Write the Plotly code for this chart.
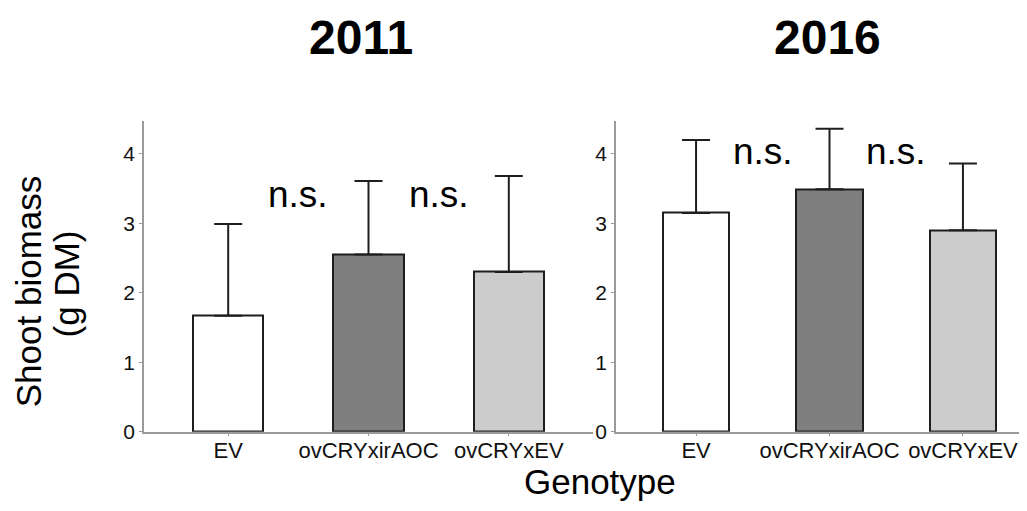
import plotly.graph_objects as go

W, H = 1027, 511

genotypes = ["EV", "ovCRYxirAOC", "ovCRYxEV"]
bar_colors = ["#ffffff", "#7f7f7f", "#cccccc"]

mean_2011 = [1.67, 2.55, 2.30]
err_2011 = [1.32, 1.06, 1.38]

mean_2016 = [3.15, 3.49, 2.90]
err_2016 = [1.05, 0.87, 0.96]

sig_labels = ["n.s.", "n.s."]
sig_y_2011 = [3.41, 3.41]
sig_y_2016 = [4.03, 4.03]

years = ["2011", "2016"]

FONT = "Liberation Sans, Arial, sans-serif"

fig = go.Figure()

for i, (means, errs) in enumerate([(mean_2011, err_2011), (mean_2016, err_2016)]):
    xa = "x" if i == 0 else "x2"
    ya = "y" if i == 0 else "y2"
    fig.add_trace(go.Bar(
        x=list(range(len(genotypes))), y=means,
        width=0.5,
        marker=dict(color=bar_colors, line=dict(color="#1e1e1e", width=2)),
        error_y=dict(type="data", array=errs, arrayminus=[0] * len(errs),
                     symmetric=False, color="#1e1e1e", thickness=2, width=14),
        xaxis=xa, yaxis=ya, showlegend=False, hoverinfo="skip",
    ))

x1_dom = [136 / W, 585 / W]
x2_dom = [608 / W, 1.0]
y_dom = [(H - 433) / H, (H - 115) / H]

axis_common = dict(
    showgrid=False, zeroline=False, showline=True, linecolor="#9a9a9a", linewidth=1.5,
    ticks="outside", ticklen=3, tickcolor="#9a9a9a", tickwidth=1,
)
xtick_font = dict(size=22, family=FONT, color="#111")
ytick_font = dict(size=21, family=FONT, color="#111")

fig.update_layout(
    width=W, height=H,
    margin=dict(l=0, r=0, t=0, b=0),
    paper_bgcolor="white", plot_bgcolor="white",
    font=dict(family=FONT, color="#111111"),
    bargap=0,
    xaxis=dict(domain=x1_dom, range=[-0.6, 2.6], tickmode="array",
               tickvals=list(range(len(genotypes))), ticktext=genotypes,
               tickfont=xtick_font, ticklabelstandoff=-5, anchor="y", **axis_common),
    yaxis=dict(domain=y_dom, range=[0, 4.48], tickvals=[0, 1, 2, 3, 4],
               tickfont=ytick_font, anchor="x", **axis_common),
    xaxis2=dict(domain=x2_dom, range=[-0.6, 2.54], tickmode="array",
                tickvals=list(range(len(genotypes))), ticktext=genotypes,
                tickfont=xtick_font, ticklabelstandoff=-5, anchor="y2", **axis_common),
    yaxis2=dict(domain=y_dom, range=[0, 4.48], tickvals=[0, 1, 2, 3, 4],
                tickfont=ytick_font, anchor="x2", **axis_common),
)

annotations = []
# year titles
for xc, yr in zip([353, 819], years):
    annotations.append(dict(text="<b>" + yr + "</b>", x=xc / W, y=(H - 30) / H,
                            xref="paper", yref="paper", showarrow=False,
                            xanchor="center", yanchor="middle",
                            font=dict(size=48, family=FONT, color="#000")))

# significance labels
for j, lab in enumerate(sig_labels):
    annotations.append(dict(text=lab, x=j + 0.5, y=sig_y_2011[j], xref="x", yref="y",
                            showarrow=False, xanchor="center", yanchor="middle",
                            font=dict(size=37, family=FONT, color="#000")))
    annotations.append(dict(text=lab, x=j + 0.5, y=sig_y_2016[j], xref="x2", yref="y2",
                            showarrow=False, xanchor="center", yanchor="middle",
                            font=dict(size=37, family=FONT, color="#000")))

# y-axis title (two lines)
annotations.append(dict(text="Shoot biomass", x=0, y=(H - 290) / H,
                        xref="paper", yref="paper", showarrow=False, textangle=-90,
                        xanchor="left", yanchor="middle", borderpad=0,
                        font=dict(size=35, family=FONT, color="#000")))
annotations.append(dict(text="(g DM)", x=38 / W, y=(H - 282) / H,
                        xref="paper", yref="paper", showarrow=False, textangle=-90,
                        xanchor="left", yanchor="middle", borderpad=0,
                        font=dict(size=35, family=FONT, color="#000")))
# x-axis title
annotations.append(dict(text="Genotype", x=592 / W, y=(H - 484) / H,
                        xref="paper", yref="paper", showarrow=False,
                        xanchor="center", yanchor="middle",
                        font=dict(size=35, family=FONT, color="#000")))

fig.update_layout(annotations=annotations)

fig.write_html("out.html")
